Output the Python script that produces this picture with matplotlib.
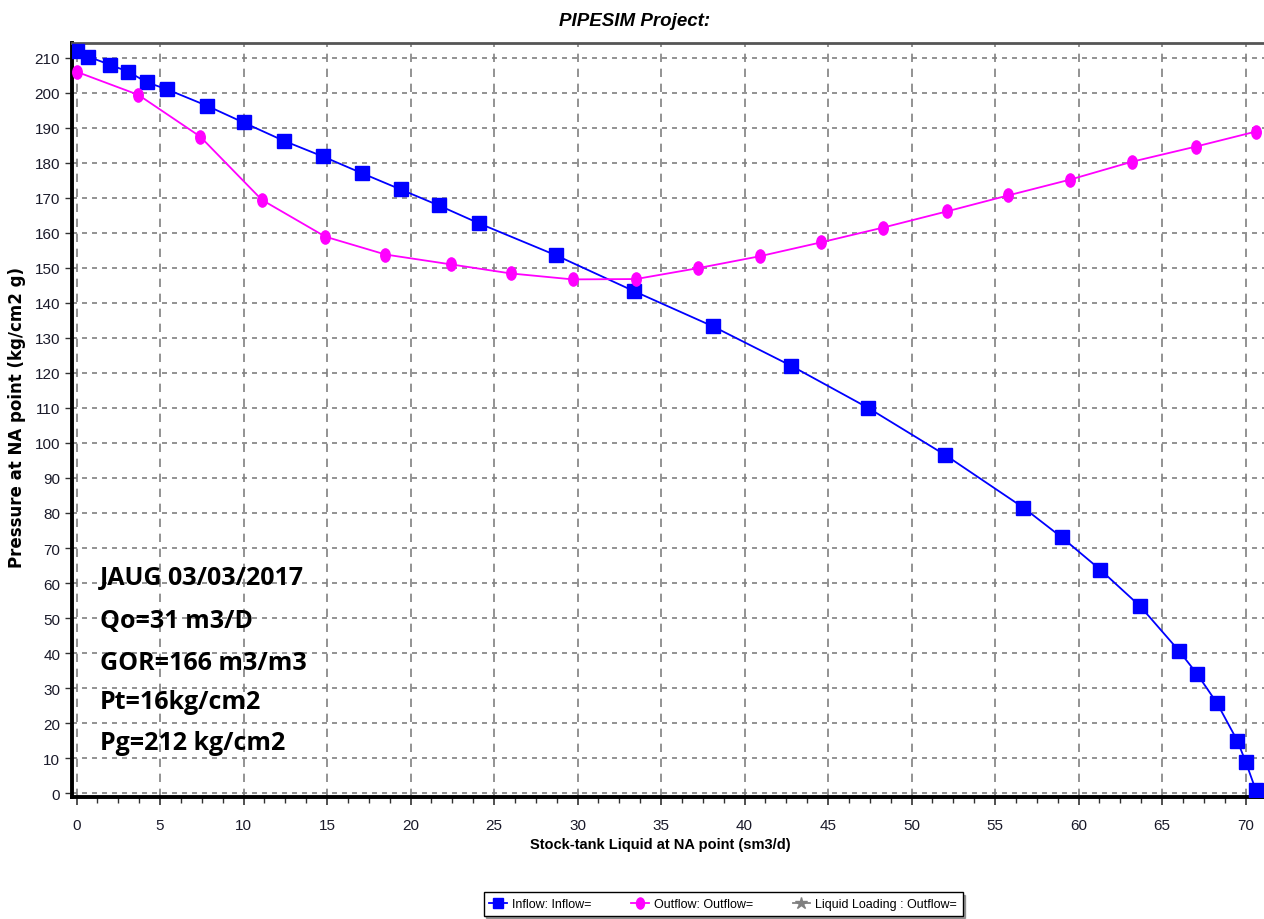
import matplotlib
matplotlib.use("Agg")
import matplotlib.pyplot as plt
from matplotlib.ticker import MultipleLocator
from matplotlib.lines import Line2D
from matplotlib.path import Path
from matplotlib.transforms import Affine2D

# ---- data ----
inflow_x = [0, 0.7, 2.0, 3.1, 4.2, 5.4, 7.8, 10.0, 12.4, 14.75, 17.1, 19.4, 21.7, 24.1,
            28.7, 33.4, 38.1, 42.8, 47.4, 52.0, 56.7, 59.0, 61.3, 63.7, 66.0, 67.1,
            68.3, 69.5, 70.0, 70.6]
inflow_y = [212, 210.3, 208, 206, 203, 201, 196.3, 191.5, 186.3, 181.8, 177, 172.4,
            167.8, 162.7, 153.6, 143.3, 133.3, 122, 110, 96.6, 81.5, 73, 63.8, 53.3,
            40.7, 34, 25.6, 15, 9, 1]
outflow_x = [0, 3.7, 7.4, 11.1, 14.9, 18.5, 22.4, 26.0, 29.7, 33.5, 37.2, 40.9, 44.6,
             48.3, 52.1, 55.8, 59.5, 63.2, 67.0, 70.6]
outflow_y = [206, 199.4, 187.5, 169.4, 158.9, 153.8, 151, 148.4, 146.7, 146.8, 149.9,
             153.3, 157.3, 161.5, 166.1, 170.7, 175.2, 180.3, 184.6, 188.9]
x_ticks = list(range(0, 75, 5))
y_ticks = list(range(0, 220, 10))
annot_lines = ["JAUG 03/03/2017", "Qo=31 m3/D", "GOR=166 m3/m3", "Pt=16kg/cm2", "Pg=212 kg/cm2"]
legend_labels = ["Inflow: Inflow=", "Outflow: Outflow=", "Liquid Loading : Outflow="]

SANS = ["Liberation Sans", "DejaVu Sans"]
W, H = 1264, 920
fig = plt.figure(figsize=(W / 100, H / 100), dpi=100)
ax = fig.add_axes([72 / W, 1 - 798 / H, 1 - 72 / W, (798 - 44) / H])

ellipse = Path.unit_circle().transformed(Affine2D().scale(0.72, 1.0))

ax.plot(inflow_x, inflow_y, color="#0000ff", lw=1.3, marker="s", ms=9.5,
        mfc="#0000ff", mec="#0000ff", zorder=3)
ax.plot(outflow_x, outflow_y, color="#ff00ff", lw=1.3, marker=ellipse, ms=9.5,
        mfc="#ff00ff", mec="#ff00ff", zorder=3)

ax.set_xlim(-0.27, 71.1)
ax.set_ylim(-1.1, 214.2)
ax.set_xticks(x_ticks)
ax.set_yticks(y_ticks)
ax.xaxis.set_minor_locator(MultipleLocator(1.25))
ax.grid(True, which="major", axis="y", color="#808080", lw=1.2, ls=(0, (3, 3)))
ax.grid(True, which="major", axis="x", color="#808080", lw=1.2, ls=(0, (5, 4)))
ax.set_axisbelow(True)

ax.tick_params(axis="x", which="major", length=6, width=1.2, color="#333333", direction="out")
ax.tick_params(axis="x", which="minor", length=4, width=1.0, color="#333333", direction="out")
ax.tick_params(axis="y", which="major", length=5, width=1.0, color="#333333", direction="out")
for lab in ax.get_xticklabels() + ax.get_yticklabels():
    lab.set_family(SANS)
    lab.set_fontsize(11)
    lab.set_color("#1a1a2a")
ax.tick_params(axis="x", pad=9)

for s in ["left", "bottom"]:
    ax.spines[s].set_linewidth(2.8)
    ax.spines[s].set_color("black")
ax.spines["top"].set_linewidth(2.0)
ax.spines["top"].set_color("#555555")
ax.spines["right"].set_visible(False)

fig.text(635 / W, 1 - 21 / H, "PIPESIM Project:", ha="center", va="center",
         family=SANS, fontsize=13.5, fontweight="bold", style="italic")
fig.text(660 / W, 1 - 845 / H, "Stock-tank Liquid at NA point (sm3/d)", ha="center",
         va="center", family=SANS, fontsize=10.5, fontweight="bold")
fig.text(17 / W, 1 - 418 / H, "Pressure at NA point (kg/cm2 g)", ha="center",
         va="center", rotation=90, family=["DejaVu Sans"],
         fontsize=12, fontweight="bold")

ys = [578, 621, 663, 703, 744]
for t, yy in zip(annot_lines, ys):
    fig.text(100 / W, 1 - yy / H, t, ha="left", va="center",
             family=["Open Sans", "DejaVu Sans"], fontsize=18, fontweight="bold")

handles = [
    Line2D([], [], color="#0000ff", lw=1.3, marker="s", ms=7),
    Line2D([], [], color="#ff00ff", lw=1.3, marker=ellipse, ms=8),
    Line2D([], [], color="#808080", lw=1.3, marker="*", ms=9),
]
leg = fig.legend(handles, legend_labels, loc="center", ncol=3,
                 bbox_to_anchor=(723 / W, 1 - 905 / H), frameon=True, shadow=True,
                 prop={"family": SANS, "size": 9}, fancybox=False,
                 handlelength=1.4, handletextpad=0.4, columnspacing=3.2,
                 borderpad=0.45)
leg.get_frame().set_edgecolor("black")
leg.get_frame().set_linewidth(1.0)

fig.savefig("out.png", dpi=100)
